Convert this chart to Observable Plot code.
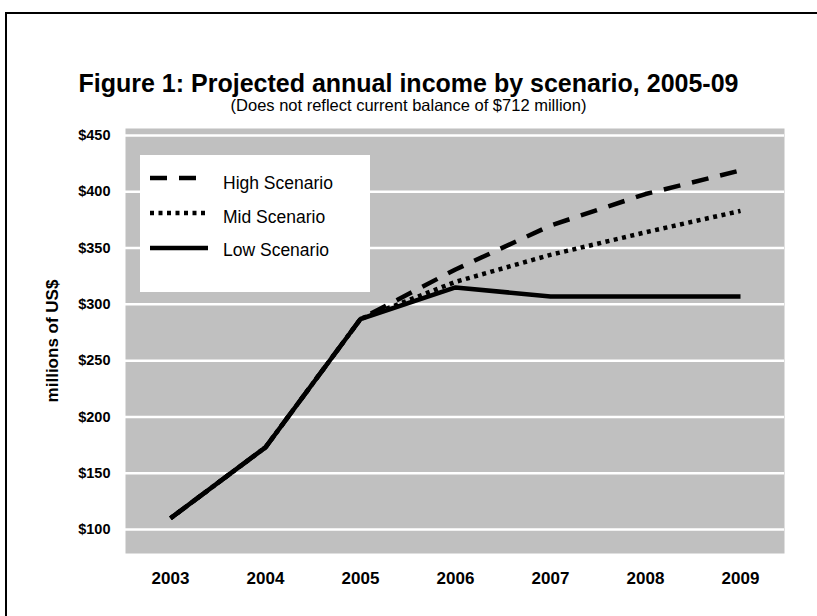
<!DOCTYPE html>
<html>
<head>
<meta charset="utf-8">
<script src="https://cdn.jsdelivr.net/npm/d3@7"></script>
<script src="https://cdn.jsdelivr.net/npm/@observablehq/plot@0.6"></script>
<style>
  html, body { margin: 0; padding: 0; background: #fff; }
  body { width: 817px; height: 616px; overflow: hidden; font-family: "Liberation Sans", Arial, sans-serif; }
  #wrap { position: relative; width: 817px; height: 616px; }
  #border { position: absolute; left: 5px; top: 12px; width: 900px; height: 700px; border-left: 2px solid #000; border-top: 2px solid #000; box-sizing: border-box; }
  #title { position: absolute; left: 0; width: 817px; top: 71px; line-height: 24px; text-align: center; font-weight: bold; font-size: 25px; color: #000; }
  #subtitle { position: absolute; left: 0; width: 817px; top: 97px; line-height: 16px; text-align: center; font-size: 16.5px; color: #000; }
  #legend { position: absolute; left: 140px; top: 155px; width: 230px; height: 137px; background: #fff; }
  .entry { position: absolute; left: 0; width: 230px; height: 20px; }
  .entry svg { position: absolute; left: 8px; }
  .entry span { position: absolute; left: 83px; font-size: 17.5px; line-height: 18px; white-space: nowrap; }
  #chart { position: absolute; left: 0; top: 0; }
</style>
</head>
<body>
<div id="wrap">
  <div id="chart"></div>
  <div id="border"></div>
  <div id="title">Figure 1: Projected annual income by scenario, 2005-09</div>
  <div id="subtitle">(Does not reflect current balance of $712 million)</div>
  <div id="legend"></div>
</div>
<script>
const years = [2003, 2004, 2005, 2006, 2007, 2008, 2009];
const seriesNames = ["High Scenario", "Mid Scenario", "Low Scenario"];
const highValues = [110, 173, 287, 331, 370, 398, 419];
const midValues  = [110, 173, 287, 320, 344, 364, 383];
const lowValues  = [110, 173, 287, 315, 307, 307, 307];
const yTicks = [100, 150, 200, 250, 300, 350, 400, 450];
const yLabel = "millions of US$";

const dashes = {"High Scenario": "17,12", "Mid Scenario": "4,4.5", "Low Scenario": null};
const valuesBySeries = {"High Scenario": highValues, "Mid Scenario": midValues, "Low Scenario": lowValues};

const rows = (name) => years.map((y, i) => ({year: String(y), value: valuesBySeries[name][i], series: name}));

const chart = Plot.plot({
  width: 817,
  height: 616,
  marginLeft: 125,
  marginRight: 33,
  marginTop: 128,
  marginBottom: 63,
  style: {fontFamily: "'Liberation Sans', Arial, sans-serif", color: "#000", background: "transparent"},
  x: {type: "point", domain: years.map(String), padding: 0.46},
  y: {domain: [78.7, 456.2]},
  marks: [
    Plot.frame({fill: "#c0c0c0", stroke: null}),
    Plot.gridY(yTicks, {stroke: "#fff", strokeOpacity: 1, strokeWidth: 2.5}),
    Plot.axisY(yTicks, {tickSize: 0, tickPadding: 15, tickFormat: d => "$" + d, fontWeight: "bold", fontSize: 14.5, label: null}),
    Plot.axisY({ticks: [], label: yLabel, labelAnchor: "center", labelOffset: 80, labelArrow: "none", fontWeight: "bold", fontSize: 17}),
    Plot.axisX({tickSize: 0, tickPadding: 18, fontWeight: "bold", fontSize: 17, label: null}),
    ...seriesNames.map(name => Plot.line(rows(name), {
      x: "year", y: "value", stroke: "#000", strokeWidth: 4.5,
      strokeDasharray: dashes[name], strokeLinejoin: "miter", strokeLinecap: "butt"
    }))
  ]
});
document.getElementById("chart").appendChild(chart);

// legend
const legend = document.getElementById("legend");
const lineTops = [23, 58, 93];
const textTops = [19, 53, 86];
seriesNames.forEach((name, i) => {
  const div = document.createElement("div");
  div.className = "entry";
  div.style.top = "0px";
  const svg = d3.create("svg").attr("width", 62).attr("height", 20)
    .style("top", (lineTops[i] - 9) + "px");
  svg.append("line").attr("x1", 2).attr("x2", 60).attr("y1", 9).attr("y2", 9)
    .attr("stroke", "#000").attr("stroke-width", 4.5)
    .attr("stroke-dasharray", dashes[name] || null);
  div.appendChild(svg.node());
  const span = document.createElement("span");
  span.textContent = name;
  span.style.top = textTops[i] + "px";
  div.appendChild(span);
  legend.appendChild(div);
});
</script>
</body>
</html>
